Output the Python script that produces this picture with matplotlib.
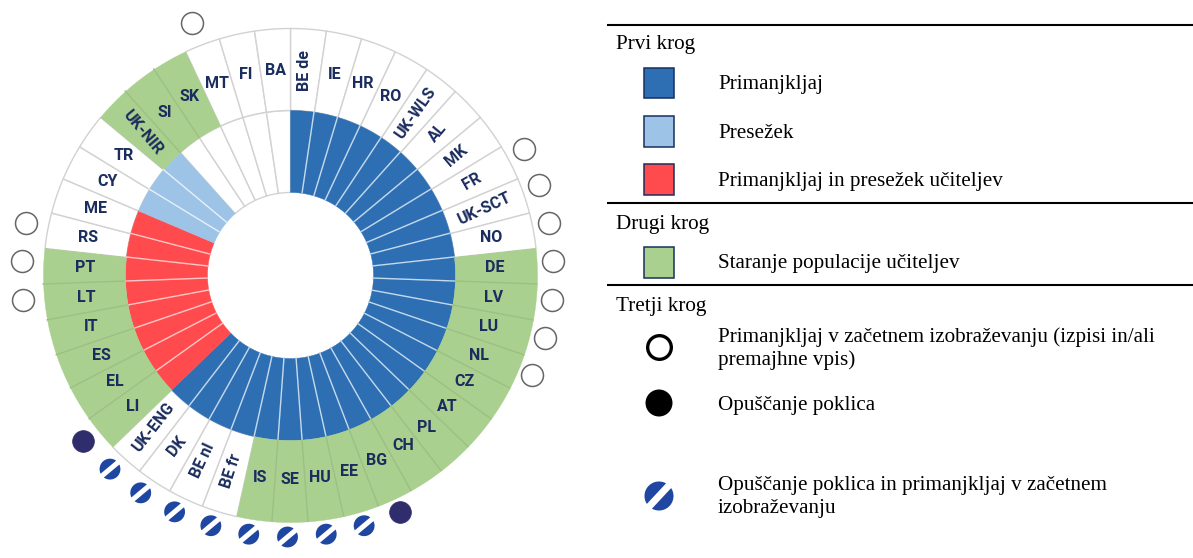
import numpy as np
import matplotlib
matplotlib.use("Agg")
import matplotlib.pyplot as plt
from matplotlib.path import Path
from matplotlib.patches import Rectangle

# ---------- data ----------
countries = ["BE de", "IE", "HR", "RO", "UK-WLS", "AL", "MK", "FR", "UK-SCT", "NO",
             "DE", "LV", "LU", "NL", "CZ", "AT", "PL", "CH", "BG", "EE", "HU", "SE",
             "IS", "BE fr", "BE nl", "DK", "UK-ENG", "LI", "EL", "ES", "IT", "LT",
             "PT", "RS", "ME", "CY", "TR", "UK-NIR", "SI", "SK", "MT", "FI", "BA"]
shortage = ["BE de", "IE", "HR", "RO", "UK-WLS", "AL", "MK", "FR", "UK-SCT", "NO",
            "DE", "LV", "LU", "NL", "CZ", "AT", "PL", "CH", "BG", "EE", "HU", "SE",
            "IS", "BE fr", "BE nl", "DK", "UK-ENG"]
surplus = ["CY", "TR", "UK-NIR"]
both = ["LI", "EL", "ES", "IT", "LT", "PT", "RS", "ME"]
ageing = ["DE", "LV", "LU", "NL", "CZ", "AT", "PL", "CH", "BG", "EE", "HU", "SE", "IS",
          "LI", "EL", "ES", "IT", "LT", "PT", "UK-NIR", "SI", "SK"]
itt_gap = ["FR", "UK-SCT", "NO", "DE", "LV", "LU", "NL", "LT", "PT", "RS", "MT"]
leaving = ["BG", "LI"]
leaving_itt = ["EE", "HU", "SE", "IS", "BE fr", "BE nl", "DK", "UK-ENG"]

headers = ["Prvi krog", "Drugi krog", "Tretji krog"]
legend_first = ["Primanjkljaj", "Presežek", "Primanjkljaj in presežek učiteljev"]
legend_second = ["Staranje populacije učiteljev"]
legend_third = [["Primanjkljaj v začetnem izobraževanju (izpisi in/ali", "premajhne vpis)"],
                ["Opuščanje poklica"],
                ["Opuščanje poklica in primanjkljaj v začetnem", "izobraževanju"]]

# ---------- styles ----------
W, H = 1193, 558
BLUE, LIGHT, RED, GREEN = "#2e6fb4", "#9dc3e6", "#ff4b4d", "#a9d08e"
NAVY = "#1b2d5e"
DISC = "#2f2d6b"
HATCH = "#1f46a1"
R_HOLE, R_MID, R_OUT = 83, 165, 247
LABEL_R = 205
MARK_R = 266
GREY = "#d2d2d2"
rotations = {"BE de": 90, "UK-WLS": 55, "AL": 50, "MK": 40, "FR": 30, "UK-SCT": 25,
             "UK-ENG": 52, "DK": 52, "BE nl": 65, "BE fr": 72, "UK-NIR": -50}

plt.rcParams["font.family"] = ["Roboto", "Liberation Sans", "DejaVu Sans"]
fig = plt.figure(figsize=(W / 100, H / 100), dpi=100, facecolor="white")


def polar_axes(cx, cy, radius):
    ax = fig.add_axes([(cx - radius) / W, (H - cy - radius) / H, 2 * radius / W, 2 * radius / H],
                      projection="polar")
    ax.set_theta_zero_location("N")
    ax.set_theta_direction(-1)
    ax.set_rlim(0, radius)
    ax.set_axis_off()
    ax.patch.set_alpha(0)
    return ax


def split_disc(angle_deg, half_width=0.2):
    """Marker outline: a disc cut by a white diagonal band."""
    half = np.arccos(half_width)
    normal = np.radians(angle_deg + 90)
    verts, codes = [], []
    for mid in (normal, normal + np.pi):
        a = np.linspace(mid - half, mid + half, 40)
        pts = np.column_stack([np.cos(a), np.sin(a)])
        verts += list(pts) + [pts[0]]
        codes += [Path.MOVETO] + [Path.LINETO] * (len(pts) - 1) + [Path.CLOSEPOLY]
    return Path(np.array(verts), codes)


def inner_class(name):
    if name in shortage:
        return BLUE
    if name in surplus:
        return LIGHT
    if name in both:
        return RED
    return "white"


def outer_class(name):
    return GREEN if name in ageing else "white"


divider = {BLUE: "#c4d9ec", LIGHT: "#e6f0f9", RED: "#ffc6c6", GREEN: "#9cc083", "white": GREY}

# ---------- rings ----------
ax = polar_axes(290, 275, 275)
n = len(countries)
step = 2 * np.pi / n
theta = (np.arange(n) + 0.5) * step


def segment(t, r0, r1, **kw):
    arc = np.linspace(t - step / 2, t + step / 2, 40)
    ax.fill_between(arc, r0, r1, **kw)


for r0, r1, cls in ((R_HOLE, R_MID, inner_class), (R_MID, R_OUT, outer_class)):
    for name, t in zip(countries, theta):
        if cls(name) == "white":
            segment(t, r0, r1, facecolor="white", edgecolor=GREY, linewidth=1.0, zorder=2)
    for name, t in zip(countries, theta):
        if cls(name) != "white":
            segment(t, r0, r1, facecolor=cls(name), edgecolor=cls(name), linewidth=0.3, zorder=3)
    for i in range(n):
        left, right = cls(countries[i - 1]), cls(countries[i])
        if left == right and left != "white":
            ax.plot([i * step, i * step], [r0, r1], color=divider[left], lw=1.0, zorder=4)

for name, t in zip(countries, theta):
    ax.text(t, LABEL_R, name, rotation=rotations.get(name, 0), rotation_mode="anchor",
            ha="center", va="center", fontsize=11.5, fontweight="bold", color=NAVY, zorder=5)
ax.set_rlim(0, 275)

# ---------- outer markers ----------
mk = polar_axes(287.5, 271, 271)
idx = {c: t for c, t in zip(countries, theta)}
mk.scatter([idx[c] for c in itt_gap], [MARK_R] * len(itt_gap), s=250, facecolor="white",
           edgecolor="#666666", linewidth=1.1, clip_on=False)
mk.scatter([idx[c] for c in leaving], [MARK_R] * len(leaving), s=245, facecolor=DISC,
           edgecolor=DISC, linewidth=0.5, clip_on=False)
mk.scatter([idx[c] for c in leaving_itt], [MARK_R] * len(leaving_itt), s=225,
           marker=split_disc(40, 0.24), facecolor=HATCH, edgecolor="none", clip_on=False)

# ---------- legend panel ----------
lg = fig.add_axes([0, 0, 1, 1])
lg.set_xlim(0, W)
lg.set_ylim(H, 0)
lg.set_axis_off()
lg.patch.set_alpha(0)
serif = dict(family="Liberation Serif", fontsize=15.2, color="black", va="baseline", ha="left")

for y in (25, 203, 285):
    lg.plot([607, 1193], [y, y], color="black", lw=1.5, solid_capstyle="butt")
for y, text in zip((49, 229, 311), headers):
    lg.text(616, y, text, **serif)

for top, base, text, col in zip((67.5, 116, 164, 247), (89, 138, 186, 268),
                                legend_first + legend_second, (BLUE, LIGHT, RED, GREEN)):
    lg.add_patch(Rectangle((643.5, top), 30, 30.5, facecolor=col, edgecolor="#17305f", lw=1.1))
    lg.text(718, base, text, **serif)

for base, lines in zip((342, 410, 490), legend_third):
    for k, line in enumerate(lines):
        lg.text(718, base + k * 23.5, line, **serif)

lg.scatter([659], [347], s=290, facecolor="white", edgecolor="black", linewidth=2.4)
lg.scatter([659], [403], s=378, marker="o", facecolor="black", edgecolor="none")
lg.scatter([659], [496], s=436, marker=split_disc(47, 0.24), facecolor=HATCH, edgecolor="none")

fig.savefig("out.png", dpi=100)
